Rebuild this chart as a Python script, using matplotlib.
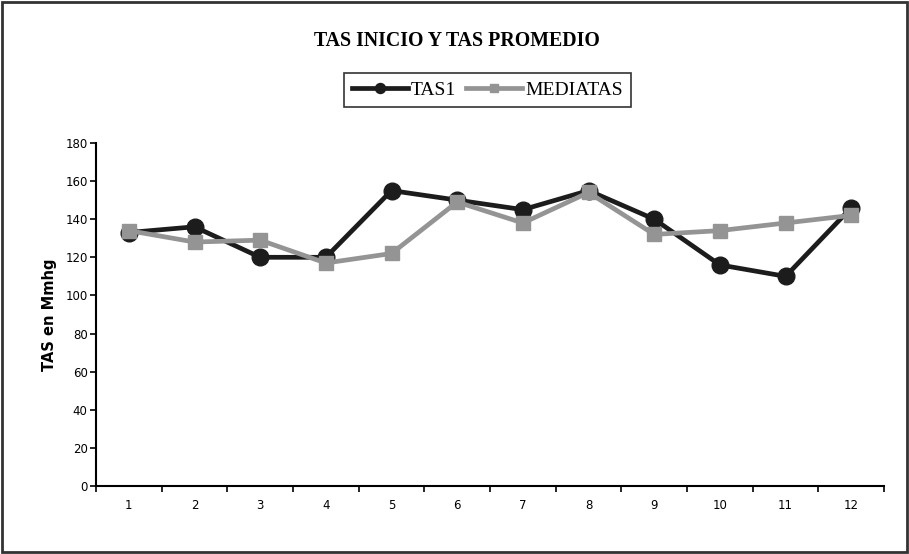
import matplotlib
matplotlib.use("Agg")
import matplotlib.pyplot as plt
from matplotlib.patches import Rectangle

categorias = [str(i) for i in range(1, 13)]
tas1 = [133, 136, 120, 120, 155, 150, 145, 155, 140, 116, 110, 146]
mediatas = [134, 128, 129, 117, 122, 149, 138, 154, 132, 134, 138, 142]

fig = plt.figure(figsize=(9.09, 5.54), dpi=100)
ax = fig.add_axes([0.1056, 0.1227, 0.867, 0.6193])

x = range(len(categorias))
ax.plot(x, tas1, color="#1c1c1c", lw=3.4, marker="o", ms=12,
        mec="#1c1c1c", mfc="#1c1c1c", label="TAS1", zorder=3)
ax.plot(x, mediatas, color="#949494", lw=3.4, marker="s", ms=9.5,
        mec="#949494", mfc="#949494", label="MEDIATAS", zorder=4)

ax.set_xlim(-0.5, len(categorias) - 0.5)
ax.set_ylim(0, 180)
ax.set_yticks(range(0, 181, 20))
ax.tick_params(axis="y", direction="out", length=4, width=1.2, labelsize=8.5, pad=2)

# ticks between categories, labels centered on each
ax.set_xticks([i - 0.5 for i in range(len(categorias) + 1)])
ax.set_xticklabels([])
ax.set_xticks(list(x), minor=True)
ax.set_xticklabels(categorias, minor=True, fontsize=8.5)
ax.tick_params(axis="x", which="major", direction="out", length=4, width=1.2)
ax.tick_params(axis="x", which="minor", length=0, pad=9)

for s in ["top", "right"]:
    ax.spines[s].set_visible(False)
for s in ["left", "bottom"]:
    ax.spines[s].set_linewidth(1.5)

ax.set_ylabel("TAS en Mmhg", fontsize=10.5, fontweight="heavy", labelpad=6)

fig.text(0.503, 0.926, "TAS INICIO Y TAS PROMEDIO", ha="center", va="center",
         family="Liberation Serif", fontweight="bold", fontsize=14.3)

leg = fig.legend(loc="center", bbox_to_anchor=(0.536, 0.8375), ncol=2,
                 prop={"family": "Liberation Serif", "size": 14},
                 frameon=True, fancybox=False, edgecolor="black",
                 handlelength=2.9, handletextpad=0.15, columnspacing=0.5,
                 borderpad=0.4, markerscale=0.6)
leg.get_frame().set_linewidth(1.2)

fig.patches.append(Rectangle((0.002, 0.003), 0.996, 0.994, transform=fig.transFigure,
                             fill=False, edgecolor="#333333", lw=2))

fig.savefig("out.png", dpi=100)
